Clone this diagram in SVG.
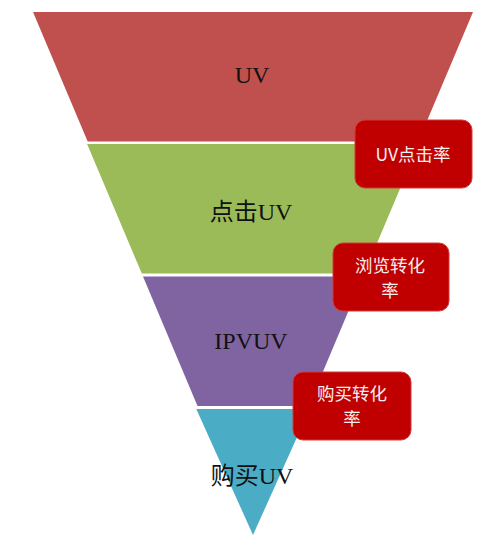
<svg xmlns="http://www.w3.org/2000/svg" width="500" height="546" viewBox="0 0 500 546">
<style>
.lbl{font-family:"Liberation Serif","Noto Sans CJK SC",serif;font-size:24px;fill:#111;text-anchor:middle}
.cjk{font-family:"Noto Sans CJK SC",sans-serif}
.box{fill:#C00000;stroke:#D23A3A;stroke-width:1}
.bt{font-family:"Noto Sans CJK SC","Noto Sans",sans-serif;font-size:17.5px;fill:#F4EEEE;text-anchor:middle}
</style>
<rect width="500" height="546" fill="#fff"/>
<g id="funnel">
<g id="band-uv"><polygon points="33,12 473,12 418.3,141.5 87.7,141.5" fill="#C0504D"/>
<text class="lbl" x="252" y="83">UV</text></g>
<g id="band-click"><polygon points="87.1,144 418.9,144 364.2,273.5 141.8,273.5" fill="#9BBB59"/>
<text class="lbl" x="251" y="220"><tspan class="cjk">点击</tspan>UV</text></g>
<g id="band-ipv"><polygon points="143,276.5 363,276.5 308.5,406 197.5,406" fill="#8064A2"/>
<text class="lbl" x="251" y="349">IPVUV</text></g>
<g id="band-buy"><polygon points="196.3,409 309.7,409 253,535" fill="#4BACC6"/>
<text class="lbl" x="252" y="484"><tspan class="cjk">购买</tspan>UV</text></g>
</g>
<g id="connectors"></g>
<g id="callout-1"><rect class="box" x="355" y="120" width="117" height="68" rx="10"/>
<text class="bt" x="413" y="161">UV点击率</text></g>
<g id="callout-2"><rect class="box" x="333" y="243" width="116" height="68" rx="10"/>
<text class="bt" x="390" y="272">浏览转化</text><text class="bt" x="390" y="297">率</text></g>
<g id="callout-3"><rect class="box" x="293" y="372" width="118" height="68" rx="10"/>
<text class="bt" x="352" y="400">购买转化</text><text class="bt" x="352" y="425">率</text></g>
</svg>
